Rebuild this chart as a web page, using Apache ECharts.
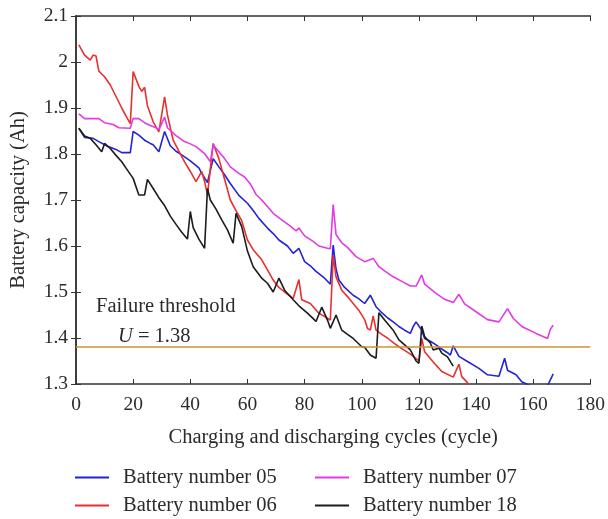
<!DOCTYPE html>
<html>
<head>
<meta charset="utf-8">
<script src="https://cdn.jsdelivr.net/npm/echarts@6/dist/echarts.min.js"></script>
<style>
  html, body { margin: 0; padding: 0; background: #fff; }
  #chart { width: 608px; height: 519px; }
</style>
</head>
<body>
<div id="chart"></div>
<script>
// values
const xTicks = [0, 20, 40, 60, 80, 100, 120, 140, 160, 180];
const yTicks = [1.3, 1.4, 1.5, 1.6, 1.7, 1.8, 1.9, 2.0, 2.1];
const threshold = 1.38;
const seriesNames = ['Battery number 05', 'Battery number 06', 'Battery number 07', 'Battery number 18'];

const b05Cycles = [1, 3, 6, 8, 11, 14, 16, 19, 20, 22, 24, 26, 27, 29, 31, 33, 35, 37, 40, 43, 44, 46, 48, 50, 52, 54, 57, 60, 62, 64, 67, 69, 71, 74, 76, 78, 80, 82, 84, 87, 89, 90, 91, 92, 94, 97, 99, 101, 103, 105, 107, 109, 111, 113, 115, 117, 118, 119, 121, 122, 124, 126, 128, 130, 131, 132, 134, 137, 141, 144, 148, 150, 151, 154, 156, 159, 162, 165, 167];
const b05Cap = [1.856, 1.836, 1.834, 1.827, 1.817, 1.81, 1.803, 1.803, 1.849, 1.841, 1.83, 1.823, 1.82, 1.805, 1.849, 1.818, 1.806, 1.798, 1.785, 1.77, 1.758, 1.738, 1.79, 1.772, 1.755, 1.736, 1.71, 1.693, 1.677, 1.66, 1.639, 1.627, 1.613, 1.6, 1.584, 1.595, 1.566, 1.557, 1.545, 1.53, 1.517, 1.602, 1.55, 1.526, 1.51, 1.493, 1.485, 1.475, 1.493, 1.468, 1.455, 1.444, 1.435, 1.425, 1.417, 1.41, 1.425, 1.435, 1.417, 1.399, 1.393, 1.385, 1.376, 1.368, 1.363, 1.383, 1.36, 1.349, 1.334, 1.32, 1.317, 1.356, 1.33, 1.32, 1.305, 1.296, 1.285, 1.296, 1.322];

const b06Cycles = [1, 3, 5, 6, 7, 8, 10, 12, 14, 16, 18, 19, 20, 22, 23, 24, 25, 27, 29, 31, 32, 34, 36, 38, 40, 42, 44, 45, 46, 48, 50, 52, 54, 56, 58, 60, 62, 65, 67, 69, 71, 73, 76, 78, 79, 82, 85, 88, 89, 90, 91, 93, 95, 97, 99, 101, 102, 103, 104, 105, 107, 109, 111, 113, 115, 117, 119, 120, 121, 122, 125, 128, 132, 134, 135, 137, 138];
const b06Cap = [2.037, 2.015, 2.004, 2.015, 2.013, 1.98, 1.968, 1.95, 1.925, 1.9, 1.877, 1.866, 1.979, 1.947, 1.936, 1.945, 1.905, 1.87, 1.848, 1.924, 1.885, 1.83, 1.806, 1.783, 1.762, 1.74, 1.762, 1.74, 1.711, 1.823, 1.79, 1.745, 1.7, 1.677, 1.655, 1.613, 1.592, 1.57, 1.548, 1.526, 1.51, 1.5, 1.486, 1.527, 1.483, 1.475, 1.454, 1.443, 1.439, 1.58, 1.533, 1.504, 1.49, 1.475, 1.46, 1.44, 1.421, 1.417, 1.448, 1.417, 1.408, 1.4, 1.39, 1.381, 1.373, 1.365, 1.355, 1.35, 1.399, 1.37, 1.348, 1.327, 1.315, 1.343, 1.316, 1.303, 1.295];

const b07Cycles = [1, 3, 8, 10, 13, 15, 19, 20, 22, 24, 26, 28, 29, 31, 32, 35, 38, 40, 42, 45, 47, 48, 50, 52, 54, 57, 59, 61, 63, 65, 67, 69, 72, 75, 77, 78, 80, 83, 85, 88, 89, 90, 91, 93, 95, 98, 101, 104, 106, 108, 111, 114, 117, 119, 121, 122, 126, 129, 132, 134, 136, 140, 144, 148, 151, 153, 156, 161, 165, 166, 167];
const b07Cap = [1.887, 1.877, 1.877, 1.868, 1.864, 1.857, 1.856, 1.877, 1.877, 1.868, 1.862, 1.857, 1.853, 1.88, 1.857, 1.84, 1.827, 1.822, 1.816, 1.801, 1.783, 1.82, 1.805, 1.79, 1.772, 1.758, 1.75, 1.735, 1.712, 1.7, 1.686, 1.671, 1.657, 1.643, 1.633, 1.639, 1.622, 1.61, 1.6, 1.595, 1.594, 1.69, 1.625, 1.607, 1.597, 1.577, 1.566, 1.573, 1.555, 1.546, 1.533, 1.523, 1.513, 1.513, 1.537, 1.517, 1.497, 1.484, 1.477, 1.495, 1.474, 1.457, 1.44, 1.435, 1.464, 1.443, 1.425, 1.41, 1.399, 1.419, 1.428];

const b18Cycles = [1, 3, 5, 7, 9, 10, 12, 14, 16, 18, 20, 22, 24, 25, 27, 29, 31, 33, 35, 37, 39, 40, 41, 43, 45, 46, 47, 49, 51, 53, 55, 56, 58, 60, 62, 65, 67, 69, 71, 73, 76, 78, 81, 84, 86, 88, 89, 91, 93, 95, 97, 100, 101, 103, 105, 106, 108, 111, 113, 115, 117, 119, 120, 121, 122, 124, 125, 127, 128, 130, 132];
const b18Cap = [1.856, 1.839, 1.834, 1.82, 1.805, 1.823, 1.812, 1.797, 1.783, 1.765, 1.747, 1.711, 1.711, 1.745, 1.725, 1.705, 1.688, 1.665, 1.647, 1.63, 1.615, 1.675, 1.64, 1.615, 1.595, 1.725, 1.7, 1.68, 1.657, 1.635, 1.606, 1.671, 1.642, 1.589, 1.555, 1.53, 1.519, 1.5, 1.53, 1.504, 1.483, 1.47, 1.454, 1.436, 1.467, 1.439, 1.421, 1.45, 1.417, 1.408, 1.399, 1.381, 1.38, 1.363, 1.356, 1.455, 1.439, 1.417, 1.396, 1.385, 1.374, 1.35, 1.345, 1.426, 1.403, 1.389, 1.374, 1.378, 1.367, 1.359, 1.339];

const pairs = (xs, ys) => xs.map((x, i) => [x, ys[i]]);

const font = 'Liberation Serif';
const axisColor = '#333';
const textColor = '#2b2b2b';

const batteryLine = (name, xs, ys, color) => ({
  name: name,
  type: 'line',
  data: pairs(xs, ys),
  showSymbol: false,
  symbol: 'none',
  clip: true,
  lineStyle: { color: color, width: 1.6 },
  itemStyle: { color: color },
  z: 3
});

// one legend per entry so the 2x2 layout matches the figure
const legendAt = (name, left, top) => ({
  data: [name],
  left: left, top: top, padding: 0,
  icon: 'rect', itemWidth: 34, itemHeight: 2,
  textStyle: { fontFamily: font, fontSize: 20.5, color: textColor, padding: [0, 0, 0, 9] }
});

const chart = echarts.init(document.getElementById('chart'));
chart.setOption({
  animation: false,
  backgroundColor: '#fff',
  textStyle: { fontFamily: font },
  grid: { left: 75, right: 16, top: 16, bottom: 135 },
  xAxis: [{
    type: 'value',
    min: xTicks[0], max: xTicks[xTicks.length - 1], interval: 20,
    name: 'Charging and discharging cycles (cycle)',
    nameLocation: 'middle', nameGap: 43,
    nameTextStyle: { fontFamily: font, fontSize: 20.5, color: textColor },
    axisLine: { show: true, lineStyle: { color: axisColor, width: 1.5 } },
    axisTick: { show: true, inside: true, length: 5, lineStyle: { color: axisColor } },
    axisLabel: { fontFamily: font, fontSize: 19.5, color: textColor, margin: 11 },
    splitLine: { show: false }
  }, {
    type: 'value', position: 'top',
    min: xTicks[0], max: xTicks[xTicks.length - 1], interval: 20,
    axisLine: { show: true, lineStyle: { color: axisColor, width: 1.5 } },
    axisTick: { show: true, inside: true, length: 5, lineStyle: { color: axisColor } },
    axisLabel: { show: false },
    splitLine: { show: false }
  }],
  yAxis: [{
    type: 'value',
    min: yTicks[0], max: yTicks[yTicks.length - 1], interval: 0.1,
    name: 'Battery capacity (Ah)',
    nameLocation: 'middle', nameGap: 47,
    nameTextStyle: { fontFamily: font, fontSize: 20.5, color: textColor },
    axisLine: { show: true, lineStyle: { color: axisColor, width: 1.5 } },
    axisTick: { show: true, inside: true, length: 5, lineStyle: { color: axisColor } },
    axisLabel: { fontFamily: font, fontSize: 19.5, color: textColor, margin: 8,
      formatter: v => String(Math.round(v * 10) / 10) },
    splitLine: { show: false }
  }, {
    type: 'value', position: 'right',
    min: yTicks[0], max: yTicks[yTicks.length - 1], interval: 0.1,
    axisLine: { show: true, lineStyle: { color: axisColor, width: 1.5 } },
    axisTick: { show: true, inside: true, length: 5, lineStyle: { color: axisColor } },
    axisLabel: { show: false },
    splitLine: { show: false }
  }],
  legend: [
    legendAt(seriesNames[0], 75, 467),
    legendAt(seriesNames[1], 75, 495),
    legendAt(seriesNames[2], 315, 467),
    legendAt(seriesNames[3], 315, 495)
  ],
  graphic: [{
    type: 'text', left: 96, top: 296,
    style: { text: 'Failure threshold', font: '20.5px "Liberation Serif"', fill: textColor }
  }, {
    type: 'text', left: 118, top: 326,
    style: {
      text: '{i|U} = 1.38', font: '20.5px "Liberation Serif"', fill: textColor,
      rich: { i: { fontStyle: 'italic', fontFamily: font, fontSize: 20.5, fill: textColor } }
    }
  }],
  series: [
    batteryLine(seriesNames[0], b05Cycles, b05Cap, '#2323d8'),
    batteryLine(seriesNames[1], b06Cycles, b06Cap, '#e8302e'),
    batteryLine(seriesNames[2], b07Cycles, b07Cap, '#e33be3'),
    Object.assign(batteryLine(seriesNames[3], b18Cycles, b18Cap, '#1c1c1c'), {
      markLine: {
        silent: true, symbol: 'none', label: { show: false },
        lineStyle: { color: '#c99535', width: 1.6, type: 'solid' },
        data: [{ yAxis: threshold }]
      }
    })
  ]
});
</script>
</body>
</html>
